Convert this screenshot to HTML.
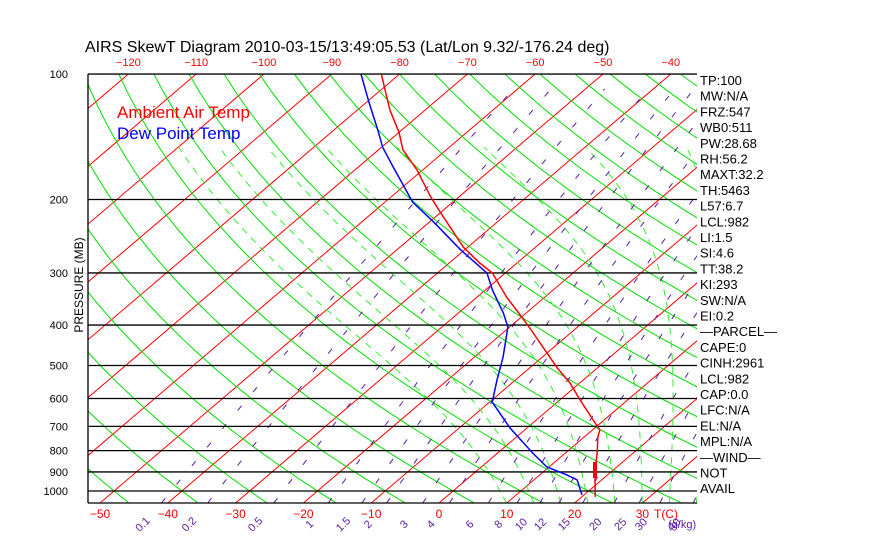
<!DOCTYPE html>
<html><head><meta charset="utf-8"><style>
html,body{margin:0;padding:0;background:#fff;}
svg{display:block;font-family:"Liberation Sans",sans-serif;}
</style></head><body>
<svg id="chart" width="870" height="560" viewBox="0 0 870 560" xmlns="http://www.w3.org/2000/svg">
<defs><clipPath id="plotclip"><rect x="88" y="74" width="609" height="429"/></clipPath></defs>
<rect x="0" y="0" width="870" height="560" fill="#fff"/>
<text x="85" y="52" font-size="16" fill="#000">AIRS SkewT Diagram 2010-03-15/13:49:05.53 (Lat/Lon 9.32/-176.24 deg)</text>
<g id="bg" clip-path="url(#plotclip)"></g>
<g id="fg" clip-path="url(#plotclip)"></g>
<g id="axes"></g>
<text x="117" y="118" font-size="17" fill="#ff0000">Ambient Air Temp</text>
<text x="117" y="139" font-size="17" fill="#0000ff">Dew Point Temp</text>
<text transform="translate(83,285) rotate(-90)" text-anchor="middle" font-size="12" fill="#000">PRESSURE (MB)</text>
<g id="stats" font-size="13" fill="#000"></g>
</svg>
<script>
const pressureTicks=[100,200,300,400,500,600,700,800,900,1000];
const topTempTicks=[-120,-110,-100,-90,-80,-70,-60,-50,-40];
const bottomTempTicks=[-50,-40,-30,-20,-10,0,10,20,30];
const mixingRatios=[0.1,0.2,0.5,1,1.5,2,3,4,6,8,10,12,15,20,25,30,40];
const tempPressure=[100,122,138,152,170,197,215,240,260,284,300,343,383,418,452,507,551,605,676,714,742,811,891,1033];
const tempValues=[-82.7,-75.2,-70.0,-66.4,-60.8,-54.2,-50.0,-44.6,-40.7,-35.5,-31.9,-25.6,-19.9,-15.5,-11.6,-5.9,-1.4,3.0,8.4,11.1,12.0,14.7,17.3,22.0];
const dewPressure=[100,117,136,150,167,203,226,264,300,330,374,404,477,542,612,706,811,876,915,941,1022];
const dewValues=[-85.7,-79.6,-73.6,-69.8,-64.9,-55.9,-49.5,-40.6,-32.7,-28.9,-23.4,-20.3,-15.8,-12.7,-9.6,-2.5,5.2,9.7,14.0,16.4,19.7];
const statLines=["TP:100","MW:N/A","FRZ:547","WB0:511","PW:28.68","RH:56.2","MAXT:32.2","TH:5463","L57:6.7","LCL:982","LI:1.5","SI:4.6","TT:38.2","KI:293","SW:N/A","EI:0.2","\u2014PARCEL\u2014","CAPE:0","CINH:2961","LCL:982","CAP:0.0","LFC:N/A","EL:N/A","MPL:N/A","\u2014WIND\u2014"," NOT"," AVAIL"];

const NS="http://www.w3.org/2000/svg";
const Y0=74,YB=503,X0=88,XR=697;
function yP(p){return Y0+417*Math.log10(p/100);}
function pY(y){return 100*Math.pow(10,(y-Y0)/417);}
function xT(t,p){return 439+6.78*t+(YB-yP(p))*1.1725;}
function mk(tag,parent,attrs){const e=document.createElementNS(NS,tag);for(const k in attrs)e.setAttribute(k,attrs[k]);parent.appendChild(e);return e;}
const bg=document.getElementById('bg'),fg=document.getElementById('fg'),ax=document.getElementById('axes'),st=document.getElementById('stats');
const PB=pY(YB);
function pathFrom(pts){return pts.map((q,i)=>(i?'L':'M')+q[0].toFixed(1)+','+q[1].toFixed(1)).join(' ');}

for(let t=-200;t<=50;t+=10){
  const e=mk('line',bg,{x1:xT(t,PB),y1:YB,x2:xT(t,100),y2:Y0,stroke:'#ff0000','stroke-width':1});
  
  
}
for(let th=183.15;th<=553.15;th+=10){
  const pts=[];for(let p=100;p<=PB+5;p+=10){const t=th*Math.pow(p/1000,0.286)-273.15;pts.push([xT(t,p),yP(p)]);}
  const e=mk('path',bg,{d:pathFrom(pts),fill:'none',stroke:'#00dd00','stroke-width':1});
  
  
}
function es(t){return 6.112*Math.exp(17.67*t/(t+243.5));}
for(let t0=10;t0<=46;t0+=4){
  let T=t0+273.15,p=1070;const pts=[];
  while(p>=150){pts.push([xT(T-273.15,p),yP(p)]);
    const rs=0.622*es(T-273.15)/(p-es(T-273.15));
    const dTdp=(287*T+2.5e6*rs)/(p*(1004+2.5e6*2.5e6*rs*0.622/(287*T*T)));
    p-=5;T-=dTdp*5;}
  const e=mk('path',bg,{d:pathFrom(pts),fill:'none',stroke:'#33ee33','stroke-width':1,'stroke-dasharray':'7,6'});
  
  
}
function tW(w,p){const e=w*p/(622+w);const l=Math.log(e/6.112);return 243.5*l/(17.67-l);}
mixingRatios.forEach(w=>{
  const pts=[];for(let p=PB;p>=100;p-=10)pts.push([xT(tW(w,p),p),yP(p)]);
  const e=mk('path',bg,{d:pathFrom(pts),fill:'none',stroke:'#5a1aa0','stroke-width':1,'stroke-dasharray':'6,18'});
  
  
  const lx=xT(tW(w,PB),PB)-19;
  const tx=mk('text',ax,{x:lx,y:528,'font-size':11,fill:'#5a1aa0','text-anchor':'middle',transform:`rotate(-45 ${lx} 524)`});
  tx.textContent=String(w);
  
  
});
pressureTicks.forEach(p=>{
  const e=mk('line',fg,{x1:X0,y1:yP(p),x2:XR,y2:yP(p),stroke:'#000','stroke-width':1.3});
  
  
  const t=mk('text',ax,{x:68,y:yP(p)+4,'font-size':11,'text-anchor':'end',fill:'#000'});
  t.textContent=String(p);
  
  
});
mk('line',ax,{x1:X0,y1:Y0,x2:XR,y2:Y0,stroke:'#000','stroke-width':1.3});
mk('line',ax,{x1:X0,y1:YB,x2:XR,y2:YB,stroke:'#000','stroke-width':1.3});
mk('line',ax,{x1:X0,y1:Y0,x2:X0,y2:YB,stroke:'#000','stroke-width':1.3});
function prof(P,T,color,name){
  const pts=P.map((p,i)=>[xT(T[i],p),yP(p)]);
  const e=mk('path',fg,{d:pathFrom(pts),fill:'none',stroke:color,'stroke-width':1.5});
  
  
}
prof(dewPressure,dewValues,'#0000ff','dew-point-line');
prof(tempPressure,tempValues,'#ff0000','temperature-line');
const wr=mk('rect',fg,{x:593,y:462,width:4,height:16,fill:'#ff0000'});


topTempTicks.forEach(t=>{
  const e=mk('text',ax,{x:xT(t,100),y:66,'font-size':11,'text-anchor':'middle',fill:'#ff0000'});
  e.textContent=String(t).replace('-','\u2212');
  
  
});
bottomTempTicks.forEach(t=>{
  const e=mk('text',ax,{x:439+6.78*t,y:518,'font-size':12,'text-anchor':'middle',fill:'#ff0000'});
  e.textContent=String(t).replace('-','\u2212');
  
  
});
const tc=mk('text',ax,{x:666,y:518,'font-size':12,'text-anchor':'middle',fill:'#ff0000'});tc.textContent='T(C)';


const wk=mk('text',ax,{x:668,y:528,'font-size':11,fill:'#5a1aa0'});wk.textContent='(g/kg)';


statLines.forEach((s,i)=>{
  const e=mk('text',st,{x:700,y:85+i*15.7});e.textContent=s;
  
  
});
</script>
</body></html>
